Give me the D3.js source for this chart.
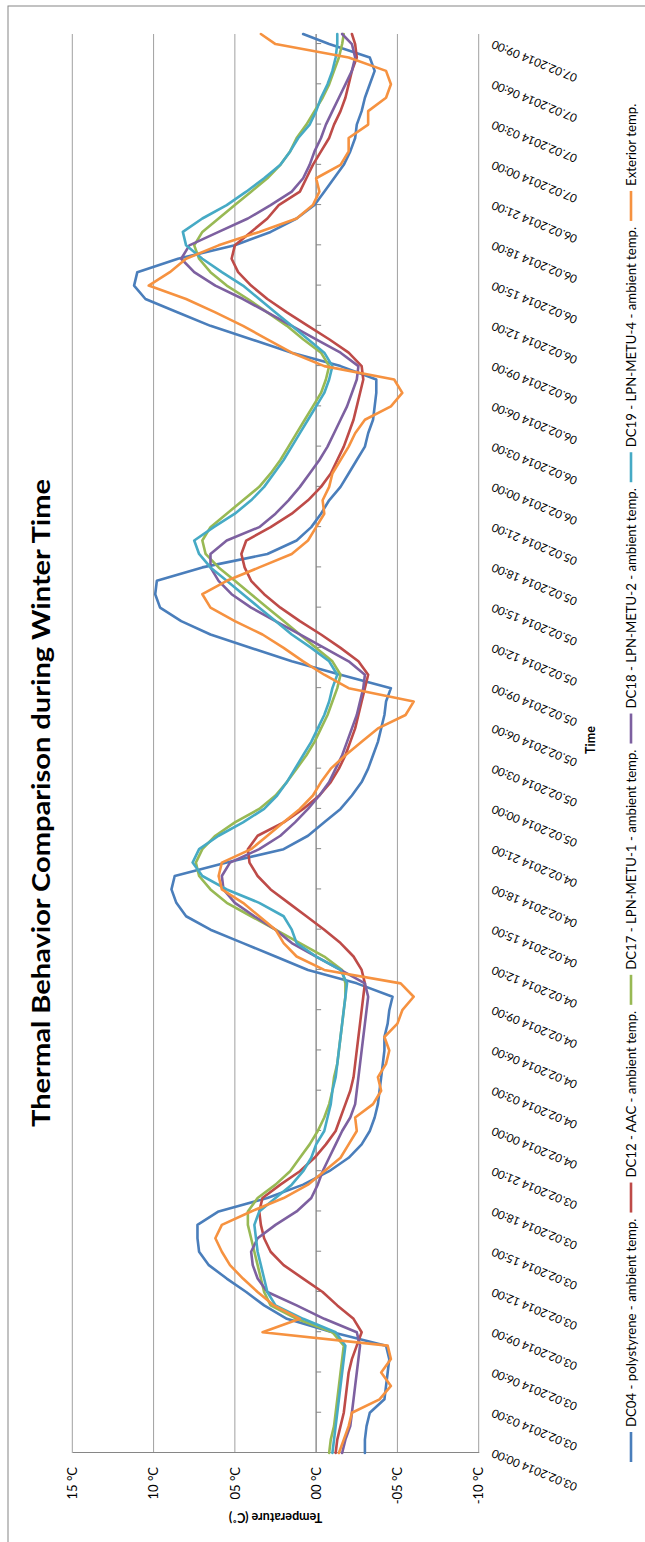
<!DOCTYPE html>
<html>
<head>
<meta charset="utf-8">
<script src="https://cdn.jsdelivr.net/npm/d3@7"></script>
<style>
  html, body { margin: 0; padding: 0; background: #fff; }
  svg { display: block; }
  text { font-family: Lato, "Open Sans", sans-serif; fill: #000; }
</style>
</head>
<body>
<svg id="chart" width="645" height="1542"></svg>
<script>
// Hourly readings from 03.02.2014 00:00, last one at 07.02.2014 09:45
const hours = d3.range(0, 106).concat([105.75]);

const dc04 = [
  -3.0,-3.0,-3.1,-3.3,-4.2,-4.3,-4.4,-4.5,-4.3,-1.0,
  1.8,3.2,4.3,5.5,6.6,7.2,7.3,7.3,6.0,3.0,
  0.8,-0.8,-2.0,-2.8,-3.3,-3.6,-3.8,-3.9,-4.0,-4.1,
  -4.2,-4.2,-4.4,-4.5,-4.7,-2.5,0.5,2.5,4.5,6.5,
  8.0,8.6,8.9,8.7,5.5,2.0,0.5,-0.5,-1.5,-2.2,
  -2.8,-3.2,-3.5,-3.8,-4.0,-4.2,-4.3,-4.6,-1.5,1.5,
  4.0,6.5,8.3,9.6,9.9,9.8,7.0,3.0,1.2,0.3,
  -0.3,-0.8,-1.5,-2.0,-2.5,-3.0,-3.2,-3.5,-3.6,-3.7,
  -3.7,-1.5,1.5,4.0,6.5,8.5,10.5,11.2,11.0,8.5,
  5.0,2.8,1.2,0.1,-0.5,-1.1,-1.7,-2.1,-2.4,-2.5,
  -2.8,-3.0,-3.3,-3.6,-3.3,-0.8,
  0.8];
const dc12 = [
  -1.2,-1.3,-1.5,-1.7,-1.8,-1.9,-2.0,-2.2,-2.5,-2.8,
  -2.3,-1.3,-0.4,0.8,2.0,2.8,3.2,3.4,3.5,3.3,
  2.2,1.0,0.1,-0.6,-1.2,-1.5,-1.8,-2.1,-2.3,-2.4,
  -2.5,-2.6,-2.7,-2.8,-2.9,-3.0,-2.8,-2.3,-1.5,-0.5,
  0.6,1.7,2.8,3.6,4.1,4.2,3.6,2.0,0.8,-0.2,
  -0.9,-1.4,-1.8,-2.1,-2.4,-2.6,-2.8,-3.0,-3.2,-2.6,
  -1.5,-0.3,1.0,2.2,3.2,4.0,4.4,4.6,4.3,2.8,
  1.5,0.5,-0.3,-0.9,-1.3,-1.7,-2.0,-2.3,-2.5,-2.7,
  -2.9,-2.8,-2.0,-0.8,0.5,1.8,3.0,4.0,4.8,5.2,
  5.0,4.0,3.0,2.3,1.0,0.6,0.2,-0.3,-0.8,-1.1,
  -1.5,-1.8,-2.0,-2.2,-2.5,-2.4,
  -2.2];
const dc17 = [
  -0.8,-0.9,-1.1,-1.2,-1.3,-1.4,-1.5,-1.6,-1.7,-1.0,
  1.2,2.8,3.2,3.4,3.6,3.8,4.0,4.2,4.2,3.6,
  2.5,1.6,1.0,0.4,-0.1,-0.5,-0.8,-1.0,-1.1,-1.3,
  -1.4,-1.5,-1.6,-1.7,-1.8,-1.8,-1.6,-0.5,1.0,2.5,
  4.0,5.5,6.5,7.2,7.4,7.0,6.2,5.0,3.5,2.5,
  1.8,1.2,0.6,0.1,-0.3,-0.7,-1.0,-1.3,-1.5,-1.0,
  0.0,1.0,2.0,3.0,4.0,5.0,6.0,6.8,7.0,6.5,
  5.5,4.5,3.5,2.8,2.2,1.7,1.2,0.7,0.2,-0.3,
  -0.6,-0.8,-0.3,0.8,1.8,3.0,4.2,5.5,6.5,7.2,
  7.5,7.0,6.0,5.0,4.0,3.0,2.2,1.6,1.2,0.6,
  0.1,-0.4,-0.8,-1.1,-1.4,-1.6,
  -1.7];
const dc18 = [
  -1.6,-1.8,-2.1,-2.2,-2.3,-2.4,-2.5,-2.6,-2.7,-2.5,
  -0.5,1.2,3.0,3.6,3.9,4.0,3.6,2.5,1.2,0.3,
  -0.1,-0.4,-0.8,-1.2,-1.6,-2.1,-2.4,-2.5,-2.6,-2.7,
  -2.8,-2.9,-3.0,-3.1,-3.2,-3.0,-1.5,0.0,1.5,2.5,
  3.8,5.0,5.7,5.8,5.3,3.5,2.2,1.3,0.5,-0.2,
  -0.8,-1.2,-1.6,-1.9,-2.2,-2.5,-2.7,-2.9,-3.0,-2.0,
  -0.5,1.0,2.5,4.0,5.2,6.0,6.5,6.5,5.5,3.5,
  2.5,1.7,1.0,0.4,-0.2,-0.7,-1.1,-1.5,-1.9,-2.2,
  -2.5,-2.6,-1.5,0.0,1.5,3.0,4.5,6.2,7.5,8.3,
  7.8,6.0,4.2,2.8,1.5,0.8,0.4,0.1,-0.3,-0.6,
  -1.0,-1.4,-1.8,-2.2,-2.4,-2.2,
  -1.6];
const dc19 = [
  -1.0,-1.1,-1.2,-1.3,-1.4,-1.5,-1.6,-1.7,-1.8,-1.2,
  0.8,2.5,3.0,3.2,3.4,3.6,3.7,3.8,3.5,2.5,
  1.5,0.8,0.3,0.0,-0.5,-0.7,-0.9,-1.0,-1.2,-1.3,
  -1.4,-1.5,-1.6,-1.7,-1.8,-1.9,-1.5,0.0,1.2,1.5,
  2.0,3.5,5.5,7.0,7.6,7.2,6.0,4.5,3.2,2.4,
  1.8,1.3,0.8,0.3,-0.1,-0.5,-0.8,-1.0,-1.3,-0.8,
  0.3,1.5,2.5,3.5,4.5,5.5,6.5,7.2,7.5,6.3,
  5.0,4.0,3.2,2.6,2.0,1.5,1.0,0.5,0.0,-0.5,
  -0.8,-1.0,-0.5,0.5,1.5,2.5,3.5,4.5,5.8,7.0,
  8.0,8.2,7.0,5.5,4.3,3.2,2.2,1.6,1.1,0.4,
  0.0,-0.3,-0.7,-1.0,-1.2,-1.3,
  -1.3];
const exterior = [
  -1.4,-1.7,-2.0,-2.2,-3.9,-4.6,-4.0,-4.6,-4.4,3.3,
  1.0,2.6,3.6,4.5,5.3,5.8,6.2,5.8,4.0,2.0,
  0.5,-0.5,-1.5,-2.0,-2.5,-2.4,-3.5,-4.0,-3.8,-4.3,
  -4.5,-4.2,-5.0,-5.3,-6.0,-5.2,-0.5,1.2,2.0,2.5,
  3.5,4.5,5.8,6.0,5.8,4.0,3.0,2.0,1.0,0.2,
  -0.3,-0.9,-1.8,-2.8,-3.8,-5.5,-6.0,-2.0,-0.5,0.8,
  2.0,3.3,5.0,6.5,7.0,5.5,3.5,1.5,0.5,0.0,
  -0.5,-0.4,-0.8,-1.0,-1.5,-2.0,-2.4,-3.0,-4.6,-5.3,
  -4.8,-0.5,1.5,3.0,4.5,6.2,8.0,10.3,9.0,8.0,
  6.0,3.5,1.2,0.2,-0.2,0.0,-1.5,-2.0,-2.0,-3.2,
  -3.2,-4.3,-4.6,-4.3,-2.0,2.5,
  3.4];

const seriesNames = [
  "DC04 - polystyrene - ambient temp.",
  "DC12 - AAC - ambient temp.",
  "DC17 - LPN-METU-1 - ambient temp.",
  "DC18 - LPN-METU-2 - ambient temp.",
  "DC19 - LPN-METU-4 - ambient temp.",
  "Exterior temp."
];
const seriesColors = ["#4A7EBB", "#BE4B48", "#98B954", "#7D60A0", "#46AAC5", "#F69240"];
const seriesValues = [dc04, dc12, dc17, dc18, dc19, exterior];

const tempTicks = [15, 10, 5, 0, -5, -10];
const timeLabels = [
  "03.02.2014 00:00","03.02.2014 03:00","03.02.2014 06:00","03.02.2014 09:00","03.02.2014 12:00","03.02.2014 15:00","03.02.2014 18:00","03.02.2014 21:00",
  "04.02.2014 00:00","04.02.2014 03:00","04.02.2014 06:00","04.02.2014 09:00","04.02.2014 12:00","04.02.2014 15:00","04.02.2014 18:00","04.02.2014 21:00",
  "05.02.2014 00:00","05.02.2014 03:00","05.02.2014 06:00","05.02.2014 09:00","05.02.2014 12:00","05.02.2014 15:00","05.02.2014 18:00","05.02.2014 21:00",
  "06.02.2014 00:00","06.02.2014 03:00","06.02.2014 06:00","06.02.2014 09:00","06.02.2014 12:00","06.02.2014 15:00","06.02.2014 18:00","06.02.2014 21:00",
  "07.02.2014 00:00","07.02.2014 03:00","07.02.2014 06:00","07.02.2014 09:00"
];

const W = 1542;   // chart laid out landscape, then turned to portrait
const svg = d3.select("#chart");
const g = svg.append("g").attr("transform", `translate(0,${W}) rotate(-90)`);

// chart frame
g.append("rect")
  .attr("x", -10).attr("y", 8).attr("width", 1546).attr("height", 700)
  .attr("fill", "none").attr("stroke", "#868686").attr("stroke-width", 1);

const tEnd = hours[hours.length - 1];
const x = d3.scaleLinear().domain([0, tEnd]).range([89, 1508]);
const y = d3.scaleLinear().domain([-10, 15]).range([478.7, 72.3]);

// horizontal gridlines
g.append("g").selectAll("line").data(tempTicks).join("line")
  .attr("x1", x(0)).attr("x2", x(tEnd))
  .attr("y1", d => y(d)).attr("y2", d => y(d))
  .attr("stroke", "#a0a0a0").attr("stroke-width", 1);

// value axis
const yAxis = g.append("g").attr("transform", `translate(${x(0)},0)`)
  .call(d3.axisLeft(y).tickValues(tempTicks).tickSize(0).tickPadding(14)
    .tickFormat(d => (d < 0 ? "-" : "") + String(Math.abs(d)).padStart(2, "0") + " °C"));
yAxis.select(".domain").attr("stroke", "#868686");
yAxis.selectAll("text").attr("font-size", 13).attr("fill", "#000").attr("font-family", "Lato");

// category axis along the zero line
const tickHours = timeLabels.map((_, i) => i * 3);
const xAxis = g.append("g").attr("transform", `translate(0,${y(0)})`)
  .call(d3.axisBottom(x).tickValues(tickHours).tickSize(5).tickFormat(""));
xAxis.select(".domain").attr("stroke", "#868686").attr("d", `M${x(0)},0H${x(tEnd)}`);
xAxis.selectAll(".tick line").attr("stroke", "#868686");

// time labels below the plot
g.append("g").selectAll("text").data(timeLabels).join("text")
  .attr("transform", (d, i) => `translate(${x(tickHours[i])},492) rotate(-67.5)`)
  .attr("text-anchor", "end").attr("dominant-baseline", "central")
  .attr("font-size", 11.5).text(d => d);

// series lines
const line = d3.line().x((d, i) => x(hours[i])).y(d => y(d));
g.append("g").selectAll("path").data(seriesValues).join("path")
  .attr("d", d => line(d))
  .attr("fill", "none")
  .attr("stroke", (d, i) => seriesColors[i])
  .attr("stroke-width", 2.6)
  .attr("stroke-linejoin", "round").attr("stroke-linecap", "round");

// title
g.append("text").attr("x", 739).attr("y", 40)
  .attr("text-anchor", "middle").attr("dominant-baseline", "central")
  .attr("font-size", 25).attr("font-weight", "bold")
  .attr("textLength", 648).attr("lengthAdjust", "spacingAndGlyphs")
  .text("Thermal Behavior Comparison during Winter Time");

// axis titles
g.append("text").attr("transform", `translate(25,${(y(15) + y(-10)) / 2}) rotate(-90)`)
  .attr("text-anchor", "middle").attr("dominant-baseline", "central")
  .attr("font-size", 12.5).attr("font-weight", "bold").text("Temperature (C˚)");
g.append("text").attr("x", 802).attr("y", 590)
  .attr("text-anchor", "middle").attr("dominant-baseline", "central")
  .attr("font-size", 12.5).attr("font-weight", "bold").text("Time");

// legend
const legend = g.append("g").attr("transform", "translate(80,631)");
let cursor = 0;
seriesNames.forEach((name, i) => {
  legend.append("line").attr("x1", cursor).attr("x2", cursor + 30)
    .attr("y1", 0).attr("y2", 0)
    .attr("stroke", seriesColors[i]).attr("stroke-width", 2.6);
  const t = legend.append("text").attr("x", cursor + 35).attr("y", 0)
    .attr("dominant-baseline", "central").attr("font-size", 13.2).text(name);
  cursor += 35 + t.node().getComputedTextLength() + 6;
});
</script>
</body>
</html>
